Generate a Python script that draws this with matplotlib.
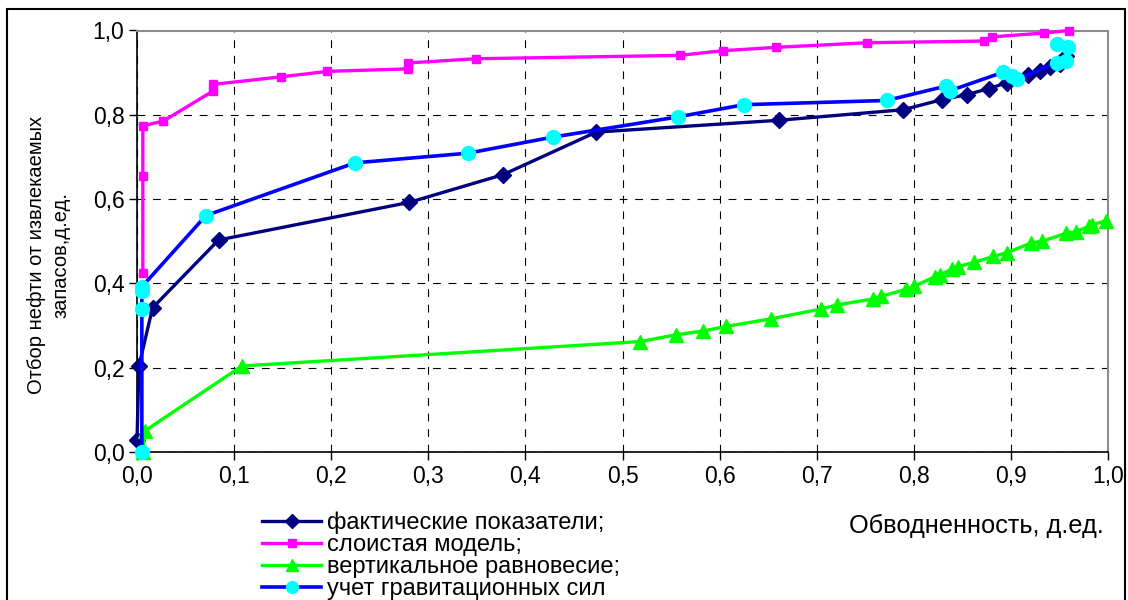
import matplotlib
matplotlib.use("Agg")
import matplotlib.pyplot as plt
from matplotlib.patches import Rectangle
from matplotlib.ticker import FuncFormatter, MultipleLocator

plt.rcParams['font.family'] = ['Liberation Sans', 'DejaVu Sans']

# --- data -------------------------------------------------------------
fact_x = [0.0, 0.002, 0.016, 0.084, 0.280, 0.377, 0.473, 0.661, 0.789, 0.829,
          0.855, 0.877, 0.896, 0.918, 0.930, 0.940, 0.951, 0.957]
fact_y = [0.028, 0.204, 0.342, 0.503, 0.592, 0.658, 0.759, 0.787, 0.812, 0.836,
          0.848, 0.862, 0.876, 0.895, 0.903, 0.913, 0.920, 0.940]

layer_x = [0.006, 0.006, 0.006, 0.027, 0.078, 0.078, 0.148, 0.196, 0.279, 0.279,
           0.349, 0.559, 0.603, 0.658, 0.752, 0.872, 0.881, 0.934, 0.960]
layer_y = [0.424, 0.654, 0.774, 0.785, 0.856, 0.872, 0.890, 0.903, 0.909, 0.923,
           0.933, 0.941, 0.952, 0.960, 0.971, 0.975, 0.985, 0.994, 1.0]

vert_x = [0.006, 0.008, 0.108, 0.518, 0.555, 0.583, 0.607, 0.653, 0.704, 0.721,
          0.758, 0.766, 0.792, 0.800, 0.822, 0.827, 0.839, 0.846, 0.862, 0.882,
          0.896, 0.921, 0.932, 0.957, 0.967, 0.980, 0.984, 0.998]
vert_y = [0.0, 0.05, 0.204, 0.262, 0.278, 0.287, 0.298, 0.316, 0.339, 0.349,
          0.363, 0.369, 0.386, 0.393, 0.416, 0.420, 0.434, 0.440, 0.450, 0.464,
          0.473, 0.496, 0.500, 0.519, 0.523, 0.535, 0.539, 0.549]

grav_x = [0.005, 0.005, 0.005, 0.005, 0.071, 0.2245, 0.341, 0.428, 0.557, 0.625,
          0.772, 0.833, 0.837, 0.892, 0.901, 0.906, 0.947, 0.957, 0.959, 0.947]
grav_y = [0.0, 0.339, 0.383, 0.392, 0.561, 0.686, 0.709, 0.747, 0.795, 0.824,
          0.834, 0.868, 0.857, 0.901, 0.891, 0.884, 0.923, 0.927, 0.961, 0.967]

labels = ["фактические показатели;", "слоистая модель;",
          "вертикальное равновесие;", "учет гравитационных сил"]
x_label = "Обводненность, д.ед."
y_label = "Отбор нефти от извлекаемых\nзапасов,д.ед."

# --- figure -----------------------------------------------------------
W, H = 1128, 600
fig = plt.figure(figsize=(W / 100, H / 100), dpi=100)
ax = fig.add_axes([137 / W, 1 - 452 / H, (1108 - 137) / W, (452 - 30.5) / H])

l1, = ax.plot(fact_x, fact_y, color='#000080', lw=2.4, marker='D', ms=8,
              mec='#000080', mfc='#000080', clip_on=False, zorder=3)
l2, = ax.plot(layer_x, layer_y, color='#FF00FF', lw=2.4, marker='s', ms=6,
              mec='#FF00FF', mfc='#FF00FF', clip_on=False, zorder=3)
l3, = ax.plot(vert_x, vert_y, color='#00FF00', lw=2.4, marker='^', ms=10,
              mec='#00FF00', mfc='#00FF00', clip_on=False, zorder=3)
l4, = ax.plot(grav_x, grav_y, color='#0000FF', lw=2.6, marker='o', ms=10,
              mec='#00FFFF', mfc='#00FFFF', clip_on=False, zorder=3)

ax.set_xlim(0, 1)
ax.set_ylim(0, 1)
ax.xaxis.set_major_locator(MultipleLocator(0.1))
ax.yaxis.set_major_locator(MultipleLocator(0.2))
fmt = FuncFormatter(lambda v, p: f"{v:.1f}".replace('.', ','))
ax.xaxis.set_major_formatter(fmt)
ax.yaxis.set_major_formatter(fmt)
ax.tick_params(axis='both', direction='out', length=6, width=1, labelsize=16.5,
               colors='black', pad=3)
ax.grid(True, color='black', lw=0.8, linestyle=(0, (7, 7)))
ax.set_axisbelow(True)
for s in ['top', 'right']:
    ax.spines[s].set_color('#8c8c8c')
    ax.spines[s].set_linewidth(1.5)
for s in ['left', 'bottom']:
    ax.spines[s].set_color('black')
    ax.spines[s].set_linewidth(1.2)

fig.text(976 / W, 1 - 526 / H, x_label, ha='center', va='center', fontsize=18.3)
fig.text(49 / W, 1 - 255 / H, y_label, ha='center', va='center', rotation=90,
         fontsize=14.5, multialignment='center', linespacing=1.4)

fig.legend([l1, l2, l3, l4], labels, loc='upper left',
           bbox_to_anchor=(262 / W, 1 - 512 / H), frameon=False,
           fontsize=17, handlelength=2.5, handletextpad=0.25,
           labelspacing=0.0, borderpad=0, borderaxespad=0, markerscale=0.85)

fig.patches.append(Rectangle((7 / W, -0.05), (1125 - 7) / W, 1.05 - 9 / H,
                             transform=fig.transFigure, fill=False,
                             edgecolor='black', lw=1.5))

fig.savefig("out.png", dpi=100)
